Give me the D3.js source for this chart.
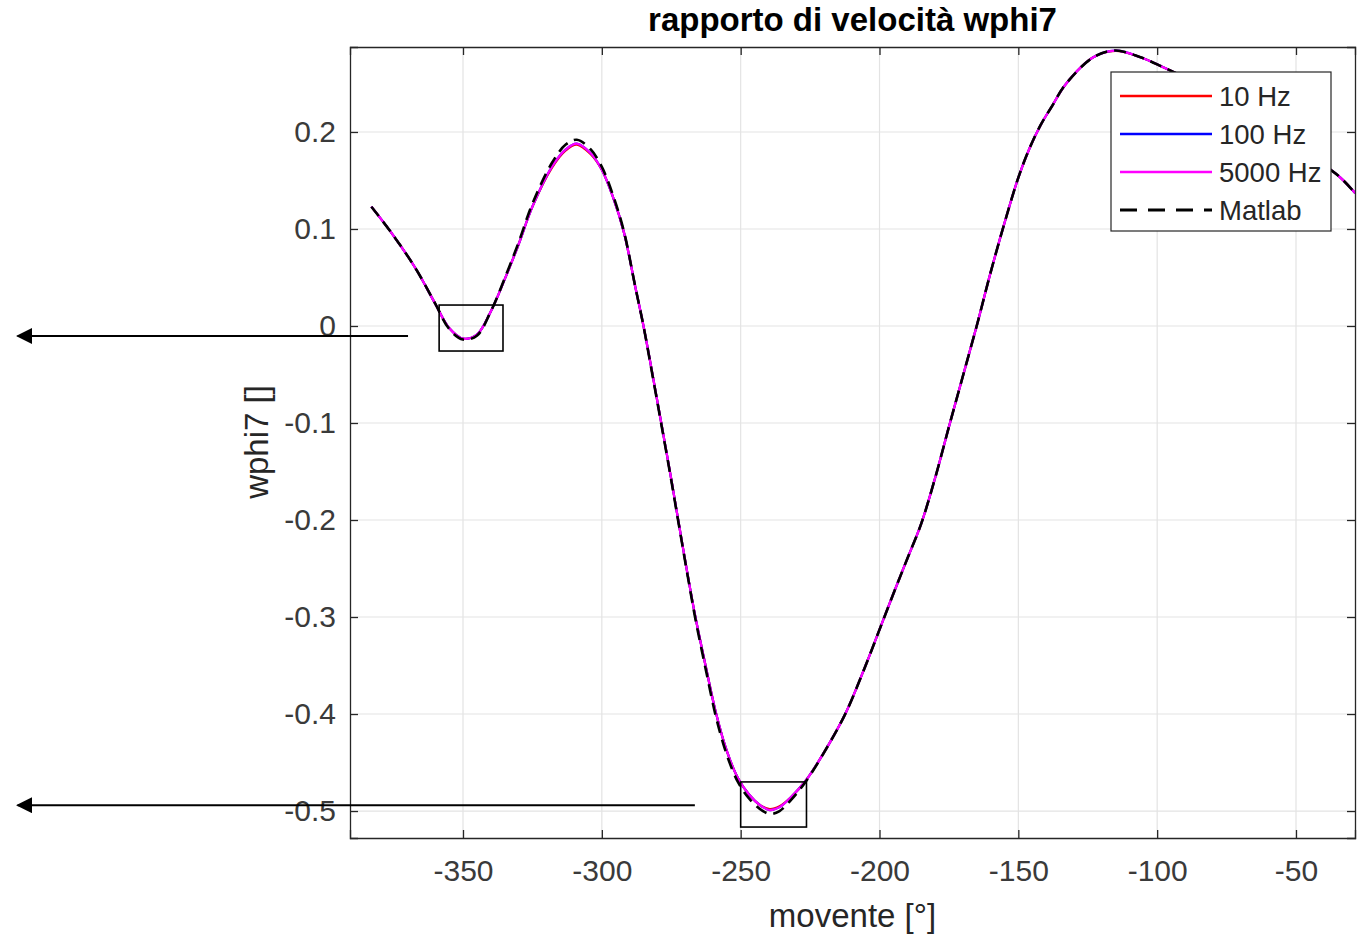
<!DOCTYPE html>
<html lang="en">
<head>
<meta charset="UTF-8">
<title>rapporto di velocità wphi7</title>
<script src="https://d3js.org/d3.v7.min.js"></script>
<style>
    body { margin: 0; background: #ffffff; }
    svg { display: block; font-family: "Liberation Sans", Arial, Helvetica, sans-serif; }
    .tick-label { font-size: 30px; fill: #3a3a3a; }
    .grid line { stroke: #e3e3e3; stroke-width: 1.2; }
    .series { fill: none; stroke-linejoin: round; }
</style>
</head>
<body>
<svg id="chart" width="1357" height="938"></svg>
<script>
// angle of the driving link (movente), degrees
const movente = [-383, -375, -367, -360, -355, -350, -345, -340, -335, -330,
    -325, -318, -313, -309, -304, -300, -296, -292, -288, -285,
    -282, -278.6, -275, -272.5, -269, -266.3, -262.5, -258.8, -255, -251,
    -247, -243, -239.5, -236, -232, -226.4, -218, -212, -205, -200,
    -195, -190, -185, -180, -175, -170, -165, -160, -155, -150,
    -146, -142, -138, -133, -123, -115, -106, -98, -90, -80,
    -70, -60, -50, -40, -34, -28.7];

// simulated velocity ratio at the three sampling rates
const y10Hz = [0.123, 0.093, 0.059, 0.023, -0.002, -0.013, -0.009, 0.015, 0.048, 0.084,
    0.123, 0.163, 0.181, 0.187, 0.177, 0.161, 0.133, 0.096, 0.041, 0.000,
    -0.046, -0.100, -0.158, -0.200, -0.258, -0.300, -0.352, -0.400, -0.438, -0.466,
    -0.483, -0.494, -0.498, -0.495, -0.486, -0.468, -0.430, -0.398, -0.350, -0.313,
    -0.276, -0.240, -0.204, -0.157, -0.104, -0.052, 0.000, 0.055, 0.106, 0.153,
    0.183, 0.207, 0.226, 0.249, 0.277, 0.2835, 0.277, 0.267, 0.256, 0.240,
    0.222, 0.203, 0.184, 0.166, 0.153, 0.137];
const y100Hz = [0.123, 0.093, 0.059, 0.023, -0.002, -0.013, -0.009, 0.015, 0.048, 0.084,
    0.123, 0.164, 0.182, 0.188, 0.178, 0.161, 0.133, 0.096, 0.041, 0.000,
    -0.046, -0.100, -0.158, -0.200, -0.258, -0.300, -0.352, -0.400, -0.438, -0.466,
    -0.483, -0.494, -0.499, -0.496, -0.486, -0.468, -0.430, -0.398, -0.350, -0.313,
    -0.276, -0.240, -0.204, -0.157, -0.104, -0.052, 0.000, 0.055, 0.106, 0.153,
    0.183, 0.207, 0.226, 0.249, 0.277, 0.2838, 0.277, 0.267, 0.256, 0.240,
    0.222, 0.203, 0.184, 0.166, 0.153, 0.137];
const y5000Hz = [0.123, 0.093, 0.059, 0.023, -0.002, -0.013, -0.009, 0.015, 0.048, 0.084,
    0.123, 0.164, 0.182, 0.188, 0.178, 0.161, 0.133, 0.096, 0.041, 0.000,
    -0.046, -0.100, -0.158, -0.200, -0.258, -0.300, -0.352, -0.400, -0.438, -0.466,
    -0.483, -0.494, -0.499, -0.496, -0.486, -0.468, -0.430, -0.398, -0.350, -0.313,
    -0.276, -0.240, -0.204, -0.157, -0.104, -0.052, 0.000, 0.055, 0.106, 0.153,
    0.183, 0.207, 0.226, 0.249, 0.277, 0.2838, 0.277, 0.267, 0.256, 0.240,
    0.222, 0.203, 0.184, 0.166, 0.153, 0.137];
// reference solution
const yMatlab = [0.123, 0.093, 0.059, 0.023, -0.003, -0.014, -0.010, 0.015, 0.049, 0.086,
    0.126, 0.168, 0.187, 0.192, 0.182, 0.164, 0.135, 0.097, 0.041, 0.000,
    -0.047, -0.101, -0.159, -0.201, -0.259, -0.302, -0.355, -0.404, -0.442, -0.470,
    -0.487, -0.498, -0.503, -0.500, -0.489, -0.469, -0.430, -0.398, -0.350, -0.313,
    -0.276, -0.240, -0.204, -0.157, -0.104, -0.052, 0.000, 0.055, 0.106, 0.153,
    0.183, 0.207, 0.226, 0.249, 0.277, 0.284, 0.277, 0.267, 0.256, 0.240,
    0.222, 0.203, 0.184, 0.166, 0.153, 0.137];

const seriesNames = ["10 Hz", "100 Hz", "5000 Hz", "Matlab"];
const seriesColors = ["#ff0000", "#0000ff", "#ff00ff", "#000000"];
const xTicks = [-350, -300, -250, -200, -150, -100, -50];
const yTicks = [-0.5, -0.4, -0.3, -0.2, -0.1, 0, 0.1, 0.2];

// zoom boxes and arrows drawn on the figure (data units)
const boxes = [
    { x0: -358.6, x1: -335.6, y0: -0.0258, y1: 0.0216 },
    { x0: -250.0, x1: -226.3, y0: -0.5165, y1: -0.470 }
];
const arrows = [
    { from: -369.8, to: -510.4, y: -0.0103 },
    { from: -266.5, to: -510.4, y: -0.494 }
];

const margin = { top: 47, right: 2, bottom: 100, left: 350 };
const width = 1357 - margin.left - margin.right;
const height = 938 - margin.top - margin.bottom;

const svg = d3.select("#chart");
const g = svg.append("g")
    .attr("transform", `translate(${margin.left},${margin.top})`);

const x = d3.scaleLinear().domain([-390.7, -28.75]).range([0, width]);
const y = d3.scaleLinear().domain([-0.5278, 0.2876]).range([height, 0]);

// grid
g.append("g").attr("class", "grid")
    .selectAll("line").data(xTicks).join("line")
    .attr("x1", d => x(d)).attr("x2", d => x(d))
    .attr("y1", 0).attr("y2", height);
g.append("g").attr("class", "grid")
    .selectAll("line").data(yTicks).join("line")
    .attr("x1", 0).attr("x2", width)
    .attr("y1", d => y(d)).attr("y2", d => y(d));

// curves
const allY = [y10Hz, y100Hz, y5000Hz, yMatlab];
const line = d3.line()
    .x(d => x(d[0]))
    .y(d => y(d[1]))
    .curve(d3.curveCatmullRom.alpha(0.5));

svg.append("clipPath").attr("id", "plot-clip")
    .append("rect").attr("width", width).attr("height", height);

allY.forEach((vals, i) => {
    g.append("path")
        .datum(d3.zip(movente, vals))
        .attr("class", "series")
        .attr("clip-path", "url(#plot-clip)")
        .attr("stroke", seriesColors[i])
        .attr("stroke-width", i === 3 ? 2.6 : 2.2)
        .attr("stroke-dasharray", i === 3 ? "12,7" : null)
        .attr("d", line);
});

// axes (MATLAB style box with inward ticks)
const axisColor = "#262626";
const xAxis = g.append("g").attr("transform", `translate(0,${height})`)
    .call(d3.axisBottom(x).tickValues(xTicks).tickSize(-8).tickPadding(22));
const xAxisTop = g.append("g")
    .call(d3.axisTop(x).tickValues(xTicks).tickSize(-8).tickFormat(""));
const yAxis = g.append("g")
    .call(d3.axisLeft(y).tickValues(yTicks).tickSize(-8).tickPadding(14));
const yAxisRight = g.append("g").attr("transform", `translate(${width},0)`)
    .call(d3.axisRight(y).tickValues(yTicks).tickSize(-8).tickFormat(""));

[xAxis, xAxisTop, yAxis, yAxisRight].forEach(ax => {
    ax.select(".domain").attr("stroke", axisColor).attr("stroke-width", 1.3);
    ax.selectAll(".tick line").attr("stroke", axisColor).attr("stroke-width", 1.3);
    ax.selectAll(".tick text").attr("class", "tick-label").attr("font-size", null).attr("font-family", null).attr("fill", null);
});
xAxis.selectAll(".tick text").text(d => d3.format("d")(d).replace("−", "-"));
yAxis.selectAll(".tick text").text(d => d === 0 ? "0" : d3.format(".1f")(d).replace("−", "-"));

// legend
const legend = g.append("g")
    .attr("transform", `translate(${1111 - margin.left},${72 - margin.top})`);
legend.append("rect")
    .attr("width", 220).attr("height", 159)
    .attr("fill", "#ffffff").attr("stroke", axisColor).attr("stroke-width", 1.2);
seriesNames.forEach((name, i) => {
    const ly = 24 + i * 38;
    legend.append("line")
        .attr("x1", 9).attr("x2", 101)
        .attr("y1", ly).attr("y2", ly)
        .attr("stroke", seriesColors[i])
        .attr("stroke-width", i === 3 ? 2.8 : 2.4)
        .attr("stroke-dasharray", i === 3 ? "17,11" : null);
    legend.append("text")
        .attr("x", 108).attr("y", ly + 10)
        .attr("font-size", 27.5).attr("fill", "#262626")
        .text(name);
});

// annotations
g.append("g").selectAll("rect").data(boxes).join("rect")
    .attr("x", d => x(d.x0)).attr("y", d => y(d.y1))
    .attr("width", d => x(d.x1) - x(d.x0))
    .attr("height", d => y(d.y0) - y(d.y1))
    .attr("fill", "none").attr("stroke", "#000").attr("stroke-width", 1.6);

svg.append("defs").append("marker")
    .attr("id", "arrowhead")
    .attr("viewBox", "0 0 10 10").attr("refX", 9).attr("refY", 5)
    .attr("markerWidth", 8).attr("markerHeight", 8)
    .attr("markerUnits", "strokeWidth")
    .attr("orient", "auto")
    .append("path").attr("d", "M0,0 L10,5 L0,10 Z").attr("fill", "#000");

g.append("g").selectAll("line").data(arrows).join("line")
    .attr("x1", d => x(d.from)).attr("x2", d => x(d.to))
    .attr("y1", d => y(d.y)).attr("y2", d => y(d.y))
    .attr("stroke", "#000").attr("stroke-width", 2)
    .attr("marker-end", "url(#arrowhead)");

// titles
svg.append("text")
    .attr("x", margin.left + width / 2).attr("y", 31)
    .attr("text-anchor", "middle")
    .attr("font-size", 33).attr("font-weight", "bold").attr("fill", "#000")
    .text("rapporto di velocità wphi7");
svg.append("text")
    .attr("x", margin.left + width / 2).attr("y", 927)
    .attr("text-anchor", "middle")
    .attr("font-size", 33).attr("fill", "#262626")
    .text("movente [°]");
svg.append("text")
    .attr("transform", "translate(268,442) rotate(-90)")
    .attr("text-anchor", "middle")
    .attr("font-size", 33).attr("fill", "#262626")
    .text("wphi7 []");
</script>
</body>
</html>
